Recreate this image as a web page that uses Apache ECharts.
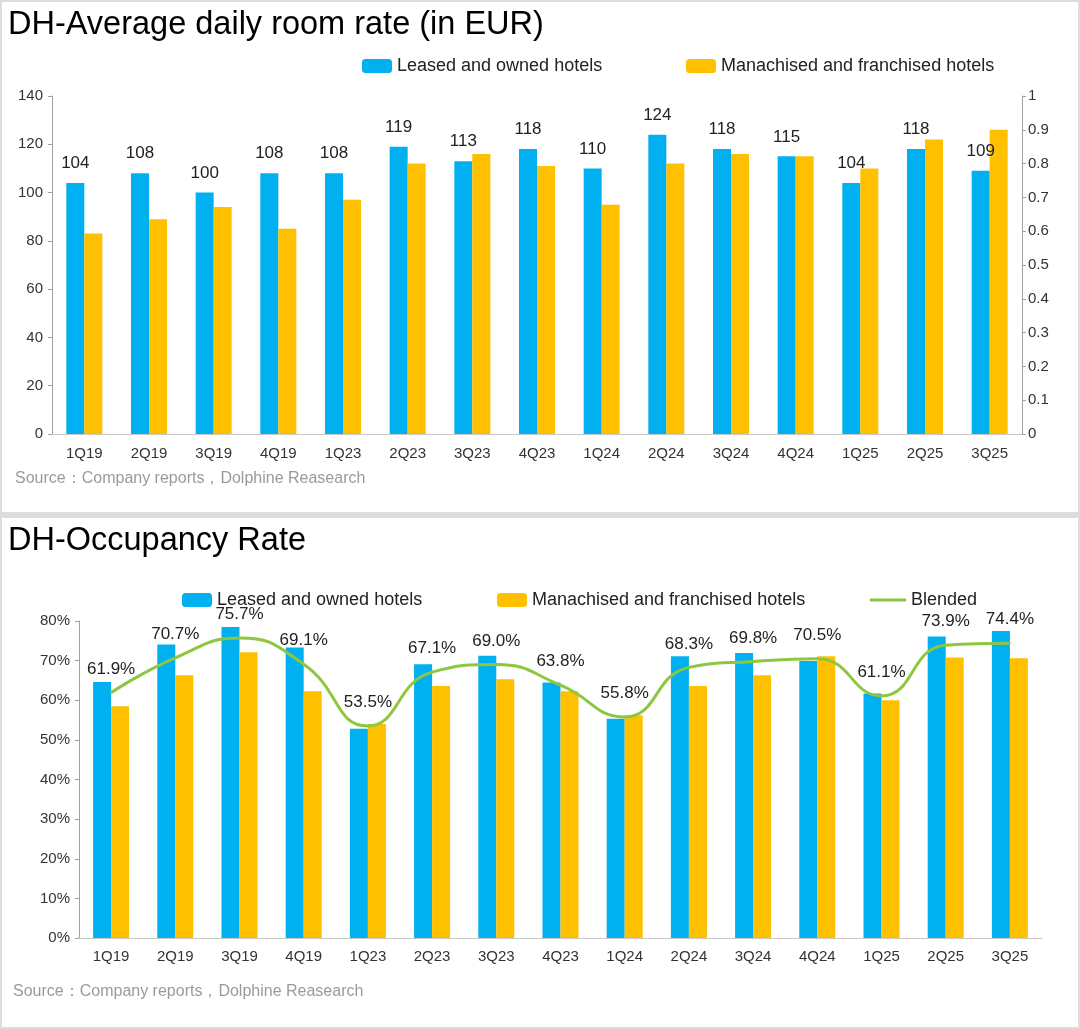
<!DOCTYPE html>
<html>
<head>
<meta charset="utf-8">
<script src="https://cdn.jsdelivr.net/npm/echarts@6/dist/echarts.min.js"></script>
<style>
  html, body { margin: 0; padding: 0; background: #dcdcdc; }
  body { width: 1080px; height: 1029px; position: relative; overflow: hidden; font-family: "Liberation Sans", Arial, sans-serif; }
  .panel { position: absolute; left: 0; width: 1076px; background: #fff; border: 2px solid #dcdcdc; }
  #top { top: 0; height: 510px; }
  #bottom { top: 516px; height: 509px; }
</style>
</head>
<body>
<div id="top" class="panel"></div>
<div id="bottom" class="panel"></div>
<script>
const categories = ['1Q19','2Q19','3Q19','4Q19','1Q23','2Q23','3Q23','4Q23','1Q24','2Q24','3Q24','4Q24','1Q25','2Q25','3Q25'];

// Average daily room rate (EUR)
const adrLeased     = [104, 108, 100, 108, 108, 119, 113, 118, 110, 124, 118, 115, 104, 118, 109];
const adrFranchised = [83, 89, 94, 85, 97, 112, 116, 111, 95, 112, 116, 115, 110, 122, 126];

// Occupancy rate (%)
const occLeased     = [64.6, 74.1, 78.5, 73.3, 52.8, 69.1, 71.2, 64.5, 55.3, 71.1, 71.9, 69.9, 61.7, 76.1, 77.5];
const occFranchised = [58.5, 66.3, 72.1, 62.3, 54.0, 63.6, 65.3, 62.3, 56.2, 63.6, 66.3, 71.1, 60.0, 70.8, 70.6];
const occBlended    = [61.9, 70.7, 75.7, 69.1, 53.5, 67.1, 69.0, 63.8, 55.8, 68.3, 69.8, 70.5, 61.1, 73.9, 74.4];

const FONT = '"Liberation Sans", Arial, sans-serif';
const BLUE = '#00B0F0';
const YELLOW = '#FFC000';
const GREEN = '#8DC63F';

const legendText = { fontSize: 18, color: '#222' };

const topChart = echarts.init(document.getElementById('top'), null, {renderer: 'canvas'});
topChart.setOption({
  animation: false,
  textStyle: { fontFamily: FONT },
  title: {
    text: 'DH-Average daily room rate (in EUR)',
    left: 1, top: 2,
    textStyle: { fontSize: 32.5, fontWeight: 'normal', color: '#000', fontFamily: FONT }
  },
  graphic: [{
    type: 'text', left: 13, top: 469,
    style: { text: 'Source：Company reports，Dolphine Reasearch', fontSize: 16, fill: '#9a9a9a', fontFamily: FONT }
  }],
  legend: [
    { data: ['Leased and owned hotels'], left: 360, top: 55, padding: 0, itemWidth: 30, itemHeight: 14,
      textStyle: legendText },
    { data: ['Manachised and franchised hotels'], left: 684, top: 55, padding: 0, itemWidth: 30, itemHeight: 14,
      textStyle: legendText }
  ],
  grid: { left: 50, right: 56, top: 94, bottom: 78 },
  xAxis: {
    type: 'category', data: categories,
    axisLine: { lineStyle: { color: '#c8c8c8' } },
    axisTick: { show: false },
    axisLabel: { fontSize: 15, color: '#333', margin: 12 }
  },
  yAxis: [
    { type: 'value', min: 0, max: 140, interval: 20,
      axisLine: { show: true, lineStyle: { color: '#a0a0a0' } },
      axisTick: { show: true, length: 4, lineStyle: { color: '#a0a0a0' } },
      splitLine: { show: false },
      axisLabel: { fontSize: 15, color: '#333', margin: 9 } },
    { type: 'value', min: 0, max: 1, interval: 0.1, position: 'right',
      axisLine: { show: true, lineStyle: { color: '#a0a0a0' } },
      axisTick: { show: true, length: 4, lineStyle: { color: '#a0a0a0' } },
      splitLine: { show: false },
      axisLabel: { fontSize: 15, color: '#333', margin: 6,
        formatter: v => String(Math.round(v * 10) / 10) } }
  ],
  series: [
    { name: 'Leased and owned hotels', type: 'bar', data: adrLeased, yAxisIndex: 0,
      barWidth: 18, barGap: '0%', itemStyle: { color: BLUE },
      label: { show: true, position: 'top', distance: 11, fontSize: 17, color: '#222' } },
    { name: 'Manachised and franchised hotels', type: 'bar', data: adrFranchised, yAxisIndex: 0,
      barWidth: 18, barGap: '0%', itemStyle: { color: YELLOW } }
  ]
});

const botChart = echarts.init(document.getElementById('bottom'), null, {renderer: 'canvas'});
botChart.setOption({
  animation: false,
  textStyle: { fontFamily: FONT },
  title: {
    text: 'DH-Occupancy Rate',
    left: 1, top: 2,
    textStyle: { fontSize: 32.5, fontWeight: 'normal', color: '#000', fontFamily: FONT }
  },
  graphic: [{
    type: 'text', left: 11, top: 466,
    style: { text: 'Source：Company reports，Dolphine Reasearch', fontSize: 16, fill: '#9a9a9a', fontFamily: FONT }
  }],
  legend: [
    { data: ['Leased and owned hotels'], left: 180, top: 73, padding: 0, itemWidth: 30, itemHeight: 14,
      textStyle: legendText },
    { data: ['Manachised and franchised hotels'], left: 495, top: 73, padding: 0, itemWidth: 30, itemHeight: 14,
      textStyle: legendText },
    { data: [{ name: 'Blended', icon: 'rect' }], left: 868, top: 73, padding: 0, itemWidth: 36, itemHeight: 3,
      textStyle: legendText }
  ],
  grid: { left: 77, right: 36, top: 103, bottom: 89 },
  xAxis: {
    type: 'category', data: categories,
    axisLine: { lineStyle: { color: '#c8c8c8' } },
    axisTick: { show: false },
    axisLabel: { fontSize: 15, color: '#333', margin: 11 }
  },
  yAxis: {
    type: 'value', min: 0, max: 80, interval: 10,
    axisLine: { show: true, lineStyle: { color: '#a0a0a0' } },
    axisTick: { show: true, length: 4, lineStyle: { color: '#a0a0a0' } },
    splitLine: { show: false },
    axisLabel: { fontSize: 15, color: '#333', margin: 9, formatter: '{value}%' }
  },
  series: [
    { name: 'Leased and owned hotels', type: 'bar', data: occLeased,
      barWidth: 18, barGap: '0%', itemStyle: { color: BLUE } },
    { name: 'Manachised and franchised hotels', type: 'bar', data: occFranchised,
      barWidth: 18, barGap: '0%', itemStyle: { color: YELLOW } },
    { name: 'Blended', type: 'line', data: occBlended, smooth: true,
      symbol: 'circle', symbolSize: 2, showSymbol: true,
      lineStyle: { color: GREEN, width: 3 }, itemStyle: { color: GREEN },
      z: 5,
      label: { show: true, position: 'top', distance: 14, fontSize: 17, color: '#222',
        formatter: p => p.value.toFixed(1) + '%' } }
  ]
});
</script>
</body>
</html>
